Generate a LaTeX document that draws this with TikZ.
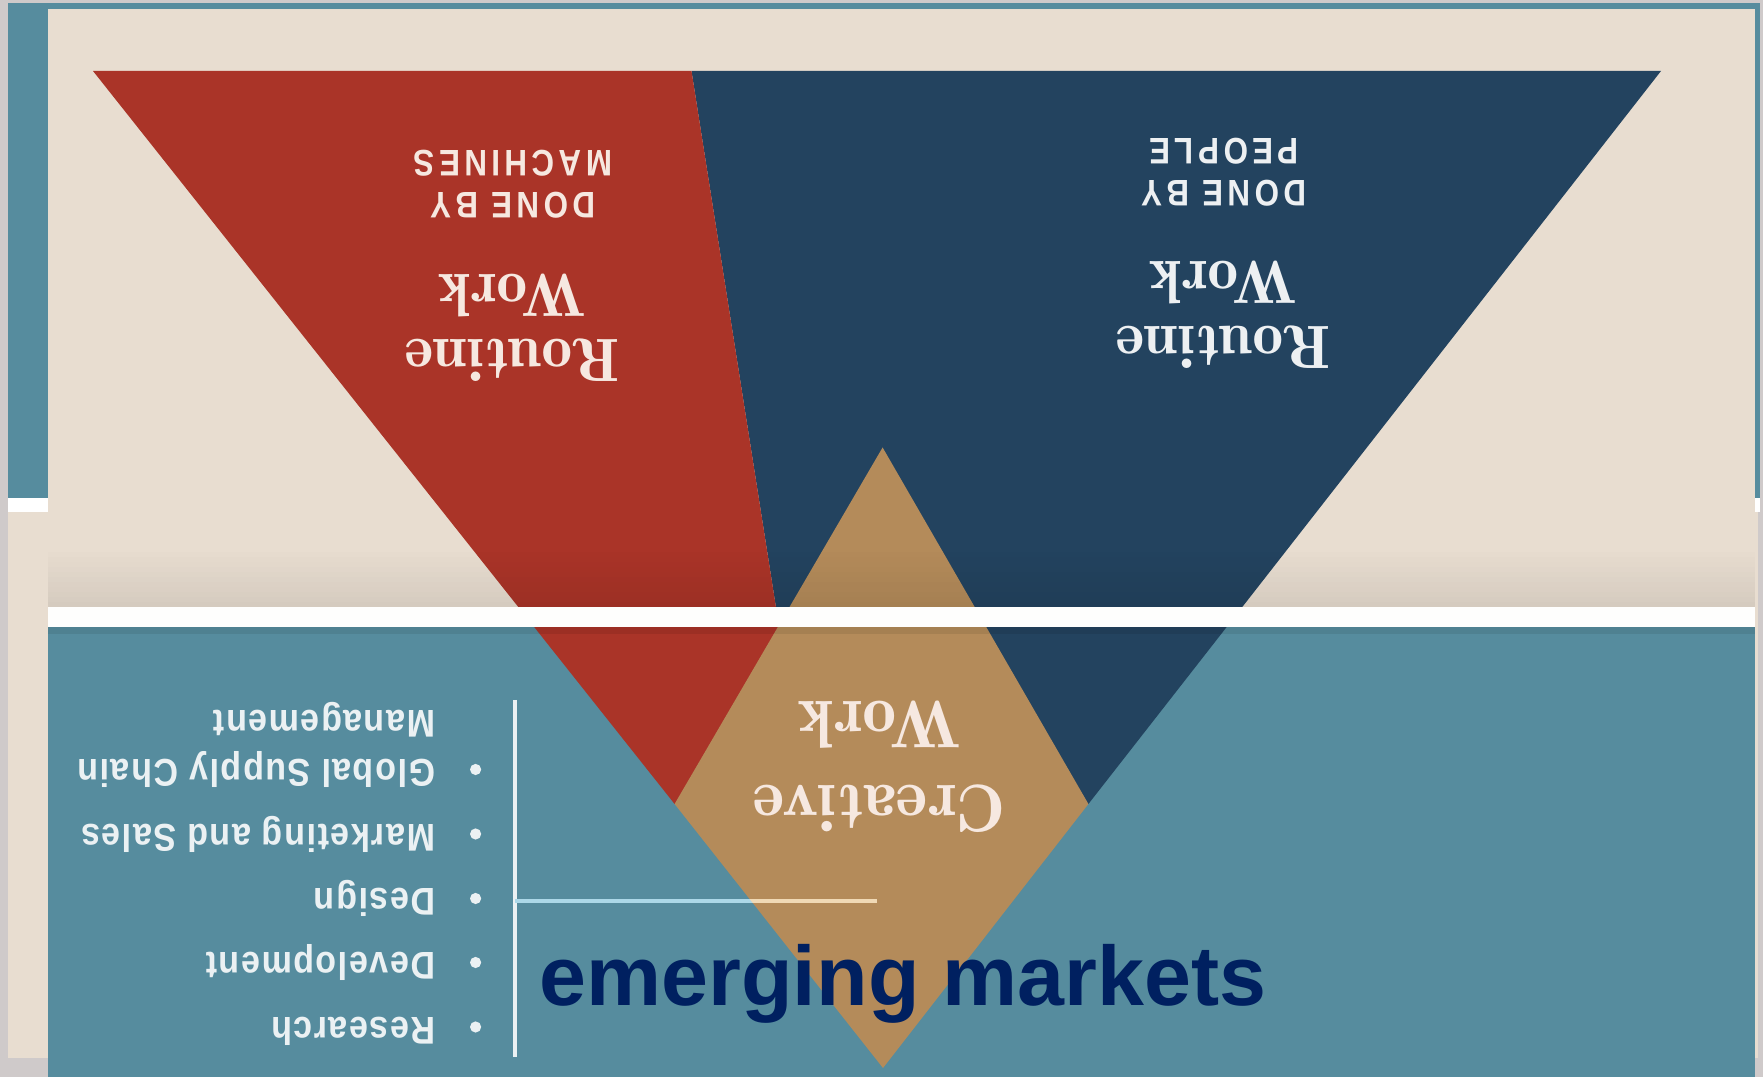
\documentclass[tikz,border=0pt]{standalone}
\usepackage{fontspec}
\newfontfamily\capsfont[LetterSpace=12,FakeStretch=0.85]{Liberation Sans}
\newfontfamily\listfont[LetterSpace=4,FakeStretch=0.88]{Liberation Sans}
\newfontfamily\headfont{Liberation Sans}
\definecolor{shadow}{HTML}{CFCACA}
\definecolor{paper}{HTML}{E8DDD0}
\definecolor{sea}{HTML}{568C9E}
\definecolor{brick}{HTML}{AA3428}
\definecolor{ink}{HTML}{23435F}
\definecolor{sand}{HTML}{B48B5A}
\definecolor{cream}{HTML}{F6E8E0}
\definecolor{headblue}{HTML}{002060}
\definecolor{rulea}{HTML}{ACD8E8}
\definecolor{ruleb}{HTML}{F0D9B5}
\colorlet{listtext}{white!88!sea}
\tikzset{
  title/.style={rotate=180,align=center,inner sep=0pt,font=\fontseries{b}\fontsize{17.4}{18.5}\selectfont},
  tag/.style={rotate=180,align=center,inner sep=0pt,font=\capsfont\bfseries\fontsize{10.5}{12}\selectfont},
  item/.style={rotate=180,anchor=north west,align=left,inner sep=0pt,text=listtext,
    font=\listfont\bfseries\fontsize{11}{14}\selectfont},
  dot/.style={fill=listtext},
}

\begin{document}
\begin{tikzpicture}[x=0.01cm,y=-0.01cm]
  \useasboundingbox (0,0) rectangle (1763,1077);
  % back slide and frame
  \fill[shadow] (0,0) rectangle (1763,1077);
  \fill[sea] (8,3) rectangle (1760,498);
  \fill[white] (8,498) rectangle (1760,512);
  \fill[paper] (8,512) rectangle (1758,1058);
  % picture
  \fill[paper] (48,9) rectangle (1755,607);
  \fill[sea] (48,627) rectangle (1755,1077);
  % triangles
  \fill[ink] (691.5,71) -- (1661,71) -- (1088.4,804) -- (882.6,700) -- (789,690) -- cycle;
  \fill[brick] (93,71) -- (691.5,71) -- (789,690) -- (674.6,804) -- cycle;
  \fill[sand] (882.6,447.5) -- (1088.4,804) -- (883,1068) -- (674.6,804) -- cycle;
  % stripe
  \foreach \k in {1,...,12}
  {
    \fill[black,opacity=0.007*\k] (48,547+5*\k) rectangle (1755,552+5*\k);
  }
  \fill[white!97!paper] (48,607) rectangle (1755,627);
  \fill[black,opacity=0.08] (48,627) rectangle (1755,634);
  % labels
  \node[title,text=cream] (rwm) at (512,328) {Routine\\Work};
  \node[tag,text=cream] (dbm) at (513,184) {DONE BY\\MACHINES};
  \node[title,text=white!92!ink] (rwp) at (1223,315) {Routine\\Work};
  \node[tag,text=white!92!ink] (dbp) at (1224,172) {DONE BY\\PEOPLE};
  \node[title,text=cream,font=\fontseries{b}\fontsize{19.2}{24}\selectfont] (cw) at (879,767) {Creative\\Work};
  % list
  \draw[listtext,line width=1pt] (515,700) -- (515,1057);
  \draw[rulea,line width=1.3pt] (515,901) -- (877,901);
  \begin{scope}
    \clip (882.6,447.5) -- (1088.4,804) -- (883,1068) -- (674.6,804) -- cycle;
    \draw[ruleb,line width=1.3pt] (515,901) -- (877,901);
  \end{scope}
  \foreach \t/\y [count=\i] in {Research/1046,Development/981.5,Design/917.5,Marketing and Sales/853}
  {
    \node[item] (item\i) at (436,\y) {\t};
    \fill[dot] (475.6,\y-19) circle (5.6);
  }
  \node[item] (item5) at (436,788.5) {Global Supply Chain\\Management};
  \fill[dot] (475.6,769.5) circle (5.6);
  \node[anchor=base west,inner sep=0pt,text=headblue,
    font=\headfont\bfseries\fontsize{24}{28}\selectfont] (em) at (539,1006) {emerging markets};
\end{tikzpicture}
\end{document}
